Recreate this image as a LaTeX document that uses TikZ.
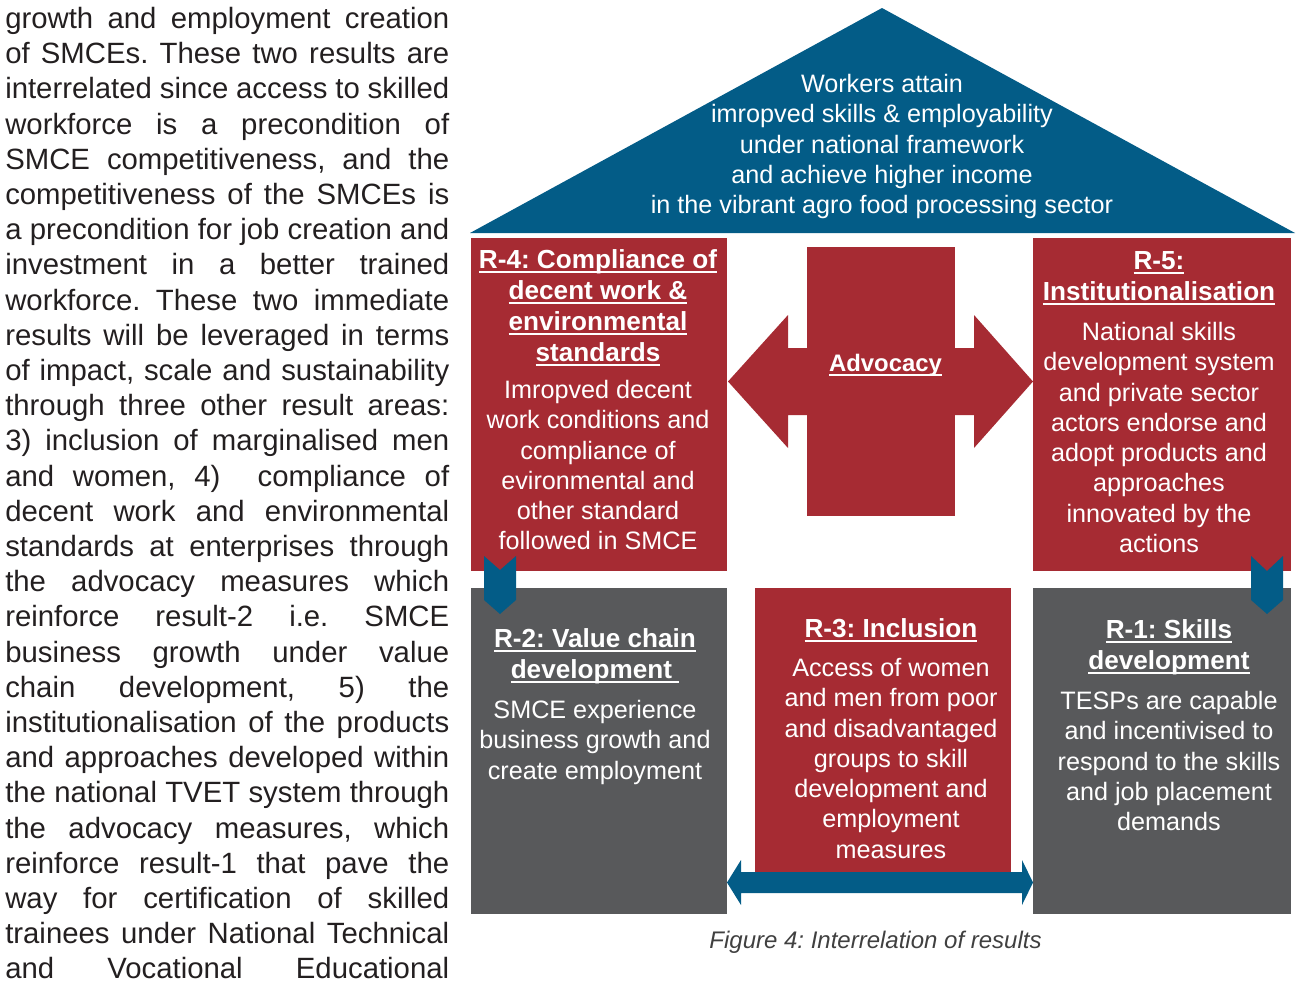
\documentclass[tikz,border=0pt]{standalone}
\usepackage{fontspec}
\setmainfont{Liberation Sans}
\usepackage{xcolor}
\frenchspacing

\definecolor{roofblue}{RGB}{3,92,135}
\definecolor{resred}{RGB}{166,43,51}
\definecolor{resgrey}{RGB}{88,89,91}
\definecolor{bodyink}{RGB}{35,31,32}
\definecolor{capgrey}{RGB}{64,64,64}

% heavy underline for the result headings
\newcommand{\undl}[1]{\leavevmode\setbox0\hbox{#1}\rlap{\rule[-0.2em]{\wd0}{0.08em}}\box0}
% one justified line of the running text
\newcommand{\bodyline}[1]{\hbox to 333pt{#1}}

\begin{document}
\begin{tikzpicture}[x=0.75pt,y=-0.75pt,
	plainspace/.style={execute at begin node={\spaceskip=\fontdimen2\font\xspaceskip=\fontdimen2\font\relax}},
	headtxt/.style={text=white, font=\fontsize{19.6}{23.25}\selectfont\bfseries, align=center, text width=192pt, inner sep=0pt, anchor=base, plainspace},
	restxt/.style={text=white, font=\fontsize{18.9}{22.7}\selectfont, align=center, text width=192pt, inner sep=0pt, anchor=base, plainspace},
	arrowfill/.style={fill=roofblue}
]

	\useasboundingbox (0,0) rectangle (1303,985);

	% roof
	\coordinate (RL) at (470,233);
	\coordinate (RA) at (882,8);
	\coordinate (RR) at (1295,233);
	\fill [roofblue] (RL) -- (RA) -- (RR) -- cycle;

	% result boxes
	\fill [resred] (471,238) rectangle (727,571);
	\fill [resred] (1033,238) rectangle (1291,571);
	\fill [resgrey] (471,588) rectangle (727,914);
	\fill [resred] (755,588) rectangle (1011,872);
	\fill [resgrey] (1033,588) rectangle (1291,914);

	% advocacy block
	\fill [resred] (807,247) rectangle (955,516);
	\fill [resred] (728,381.5) -- (788,315) -- (788,348) -- (974,348) -- (974,315) -- (1033,381.5)
		-- (974,448) -- (974,415) -- (788,415) -- (788,448) -- cycle;

	% chevrons
	\fill [arrowfill] (484,556) -- (500,570) -- (516,556) -- (516,600) -- (500,614) -- (484,600) -- cycle;
	\fill [arrowfill] (1251,556) -- (1267,571) -- (1283,556) -- (1283,600) -- (1267,614) -- (1251,600) -- cycle;

	% bottom double arrow
	\fill [arrowfill] (727,882.5) -- (741,860) -- (741,872) -- (1022,872) -- (1022,860) -- (1033,882.5)
		-- (1022,905) -- (1022,893) -- (741,893) -- (741,905) -- cycle;

	% texts
	\node [restxt, text width=360pt] (roof) at (882,92.5) {Workers attain\\ imropved skills \& employability\\ under national framework\\ and achieve higher income\\ in the vibrant agro food processing sector};

	\node [headtxt] (r4head) at (598,268) {\undl{R-4: Compliance of}\\ \undl{decent work \&}\\ \undl{environmental}\\ \undl{standards}};
	\node [restxt] (r4text) at (598,398.6) {Imropved decent\\ work conditions and\\ compliance of\\ evironmental and\\ other standard\\ followed in SMCE};

	\node [headtxt] (r5head) at (1159,269) {\undl{R-5:}\\ \undl{Institutionalisation}};
	\node [restxt] (r5text) at (1159,340.6) {National skills\\ development system\\ and private sector\\ actors endorse and\\ adopt products and\\ approaches\\ innovated by the\\ actions};

	\node [text=white, font=\fontsize{17.9}{21.5}\selectfont\bfseries, inner sep=0pt, anchor=base] (advo) at (885.5,371) {\undl{Advocacy}};

	\node [headtxt] (r2head) at (595,647) {\undl{R-2: Value chain}\\ \undl{development\ }};
	\node [restxt] (r2text) at (595,718.6) {SMCE experience\\ business growth and\\ create employment};

	\node [headtxt] (r3head) at (891,637) {\undl{R-3: Inclusion}};
	\node [restxt] (r3text) at (891,676.6) {Access of women\\ and men from poor\\ and disadvantaged\\ groups to skill\\ development and\\ employment\\ measures};

	\node [headtxt] (r1head) at (1169,638) {\undl{R-1: Skills}\\ \undl{development}};
	\node [restxt] (r1text) at (1169,709.6) {TESPs are capable\\ and incentivised to\\ respond to the skills\\ and job placement\\ demands};

	\node [text=capgrey, font=\fontsize{18}{21.6}\selectfont\itshape, inner sep=0pt, anchor=base] (caption) at (875.5,948) {Figure 4: Interrelation of results};

	% running text, every line set full width
	\node [anchor=base west, inner sep=0pt, text=bodyink, font=\fontsize{22}{26.4}\selectfont] (para) at (5,28.5) {\vtop{\spaceskip=0pt\xspaceskip=0pt
		\bodyline{growth and employment creation}
		\bodyline{of SMCEs. These two results are}
		\bodyline{interrelated since access to skilled}
		\bodyline{workforce is a precondition of}
		\bodyline{SMCE competitiveness, and the}
		\bodyline{competitiveness of the SMCEs is}
		\bodyline{a precondition for job creation and}
		\bodyline{investment in a better trained}
		\bodyline{workforce. These two immediate}
		\bodyline{results will be leveraged in terms}
		\bodyline{of impact, scale and sustainability}
		\bodyline{through three other result areas:}
		\bodyline{3) inclusion of marginalised men}
		\bodyline{and women, 4)\ \ compliance of}
		\bodyline{decent work and environmental}
		\bodyline{standards at enterprises through}
		\bodyline{the advocacy measures which}
		\bodyline{reinforce result-2 i.e. SMCE}
		\bodyline{business growth under value}
		\bodyline{chain development, 5) the}
		\bodyline{institutionalisation of the products}
		\bodyline{and approaches developed within}
		\bodyline{the national TVET system through}
		\bodyline{the advocacy measures, which}
		\bodyline{reinforce result-1 that pave the}
		\bodyline{way for certification of skilled}
		\bodyline{trainees under National Technical}
		\bodyline{and Vocational Educational}}};

\end{tikzpicture}
\end{document}
